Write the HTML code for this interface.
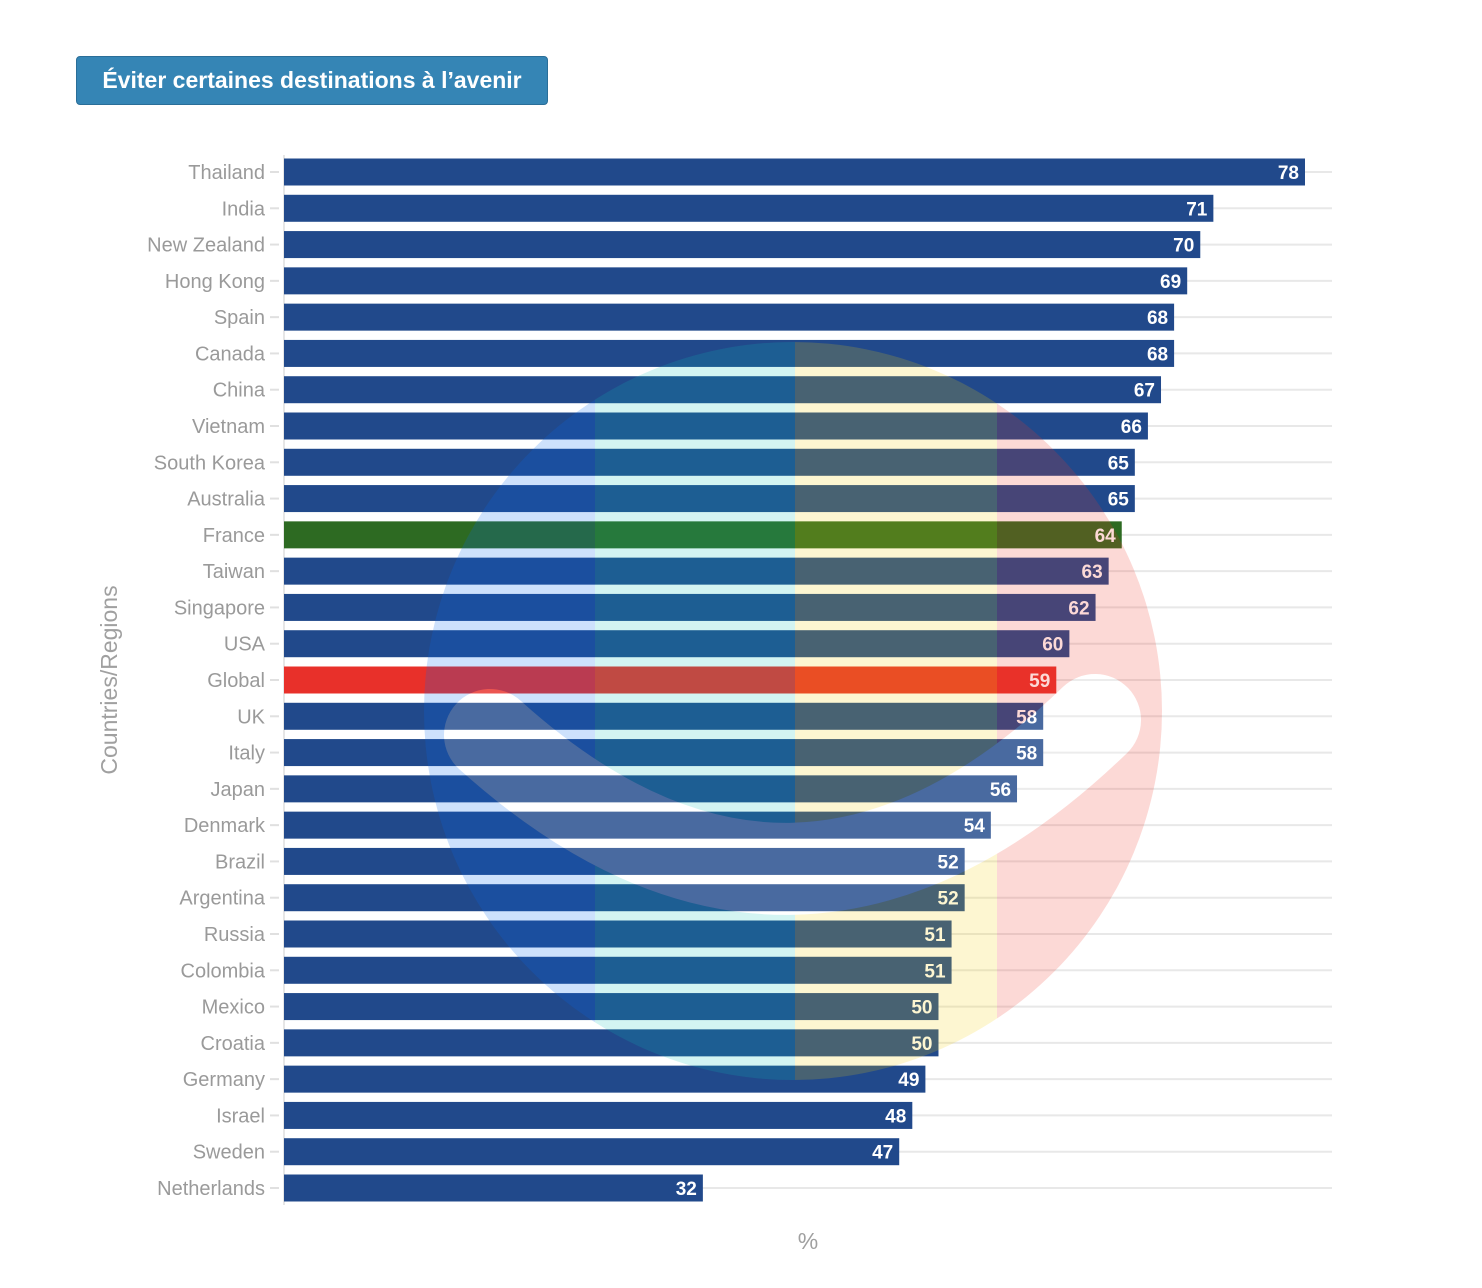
<!DOCTYPE html>
<html><head><meta charset="utf-8"><style>
html,body{margin:0;padding:0;background:#fff;}
body{width:1482px;height:1288px;position:relative;overflow:hidden;font-family:"Liberation Sans",sans-serif;}
#title{position:absolute;left:76px;top:56px;width:472px;height:49px;background:#3585b5;border:1px solid #2a6e98;border-radius:4px;color:#fff;font-weight:bold;font-size:23px;line-height:47px;text-align:center;box-sizing:border-box;}
svg{position:absolute;left:0;top:0;}
</style></head><body>
<div id="title">Éviter certaines destinations à l’avenir</div>
<svg id="chart" width="1482" height="1288"></svg>
<script>
const categories=["Thailand","India","New Zealand","Hong Kong","Spain","Canada","China","Vietnam","South Korea","Australia","France","Taiwan","Singapore","USA","Global","UK","Italy","Japan","Denmark","Brazil","Argentina","Russia","Colombia","Mexico","Croatia","Germany","Israel","Sweden","Netherlands"];
const values=[78,71,70,69,68,68,67,66,65,65,64,63,62,60,59,58,58,56,54,52,52,51,51,50,50,49,48,47,32];
const highlight={"France":"#2d6a22","Global":"#e8302a"};
const NS="http://www.w3.org/2000/svg";
const svg=document.getElementById('chart');
const x0=284,xs=1021/78,yTop=172,step=(1188-172)/28,bh=27;
const xScale=v=>x0+v*xs;
const yScale=i=>yTop+i*step;
function mk(t,a,p){const e=document.createElementNS(NS,t);for(const k in a)e.setAttribute(k,a[k]);(p||svg).appendChild(e);return e;}
const g=mk('g',{});


categories.forEach((c,i)=>{
  const y=yScale(i);
  const gl=mk('line',{x1:x0,x2:1332,y1:y,y2:y,stroke:'#e8e8e8','stroke-width':2},g);
  
  
  const tk=mk('line',{x1:270,x2:279,y1:y,y2:y,stroke:'#e0e0e0','stroke-width':2},g);
  
  
  const lb=mk('text',{x:265,y:y+7,'text-anchor':'end','font-size':20,fill:'#9a9a9a'},g);
  lb.textContent=c;
  
  
});
const ax=mk('line',{x1:x0,x2:x0,y1:155,y2:1205,stroke:'#e6e6e6','stroke-width':2},g);


categories.forEach((c,i)=>{
  const y=yScale(i);
  const r=mk('rect',{x:x0,y:y-bh/2,width:xScale(values[i])-x0,height:bh,fill:highlight[c]||'#21498b'},g);
  
  
  const t=mk('text',{x:xScale(values[i])-6,y:y+7,'text-anchor':'end','font-size':19,'font-weight':'bold',fill:'#fff'},g);
  t.textContent=values[i];
  
  
});
// watermark logo
const defs=mk('defs',{});
const m=mk('mask',{id:'lm'},defs);
mk('circle',{cx:793,cy:711,r:369,fill:'#fff'},m);
mk('path',{d:'M 490 735 Q 795 1010 1095 720',stroke:'#000','stroke-width':92,'stroke-linecap':'round',fill:'none'},m);
const wm=mk('g',{mask:'url(#lm)'});


mk('rect',{x:421,y:330,width:174,height:760,fill:'rgba(5,105,240,0.2)'},wm);
mk('rect',{x:595,y:330,width:200,height:760,fill:'rgba(10,195,185,0.18)'},wm);
mk('rect',{x:795,y:330,width:202,height:760,fill:'rgba(243,205,10,0.19)'},wm);
mk('rect',{x:997,y:330,width:170,height:760,fill:'rgba(238,53,37,0.19)'},wm);
const sw=mk('path',{d:'M 490 735 Q 795 1010 1095 720',stroke:'rgba(255,255,255,0.185)','stroke-width':92,'stroke-linecap':'round',fill:'none'});


const yt=mk('text',{x:0,y:0,transform:'translate(117,680) rotate(-90)','text-anchor':'middle','font-size':23,fill:'#a0a0a0'});
yt.textContent='Countries/Regions';


const xt=mk('text',{x:808,y:1249,'text-anchor':'middle','font-size':23,fill:'#a0a0a0'});
xt.textContent='%';


</script>
</body></html>
